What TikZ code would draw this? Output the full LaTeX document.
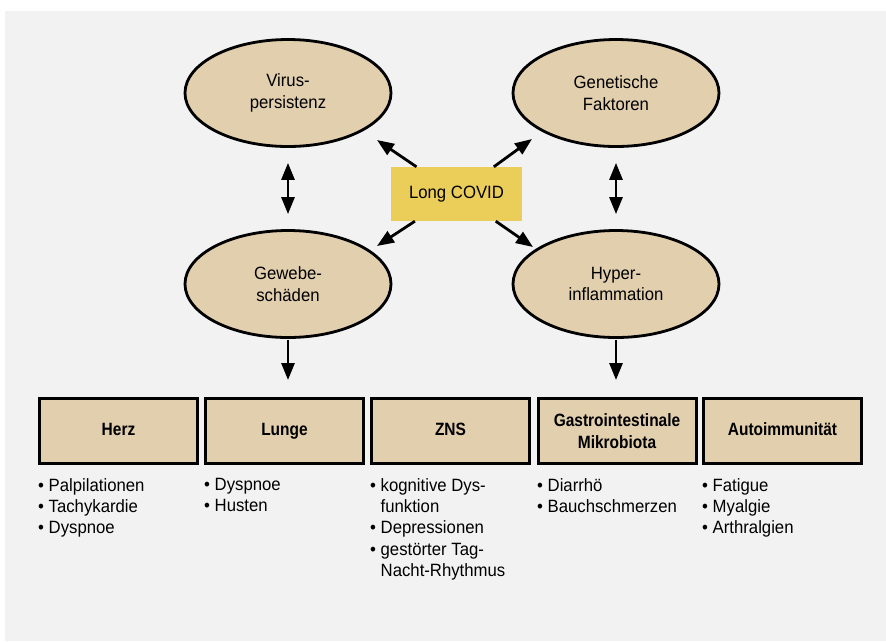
\documentclass[tikz,border=0pt]{standalone}
\usepackage{fontspec}
\setmainfont{Liberation Sans}[FakeStretch=0.94,BoldFeatures={FakeStretch=0.87}]
\usetikzlibrary{shapes.geometric,arrows.meta}
\definecolor{bg}{HTML}{F2F2F2}
\definecolor{tan}{HTML}{E2CFAE}
\definecolor{ylw}{HTML}{EBCD5A}
\tikzset{
  x=1pt,y=-1pt,
  txt/.style={font=\fontsize{17.8}{21.4}\selectfont},
  ell/.style={ellipse,draw=black,line width=2.8pt,fill=tan,minimum width=206,minimum height=107,inner sep=0,align=center,txt},
  cat/.style={rectangle,draw=black,line width=3pt,fill=tan,minimum width=158,minimum height=65,inner sep=0,align=center,txt,font=\fontsize{17.8}{21.4}\selectfont\bfseries},
  lst/.style={anchor=north west,align=left,inner sep=0,txt},
  arr/.style={line width=2.8pt,-{Triangle[length=17pt,width=13pt]}},
  dbl/.style={line width=2.8pt,{Triangle[length=17pt,width=13pt]}-{Triangle[length=17pt,width=13pt]}}
}
\newcommand{\bl}{\textbullet\ }
\newcommand{\bi}{\hphantom{\textbullet\ }}
\newcommand{\sg}{\vphantom{Hg}}
\begin{document}
\begin{tikzpicture}
\useasboundingbox (0,0) rectangle (886,641);
\fill[bg] (5,11) rectangle (886,641);
\node[ell] (vir) at (288,93) {Virus-\\persistenz};
\node[ell] (gen) at (616,93) {Genetische\\Faktoren};
\node[ell] (gew) at (288,284) {Gewebe-\\schäden};
\node[ell] (hyp) at (616,284) {Hyper-\\inflammation};
\node[fill=ylw,minimum width=131,minimum height=54,inner sep=0,txt] (lc) at (456.5,194) {Long COVID};
\coordinate (t1) at (377,140);
\coordinate (t2) at (532,139);
\coordinate (t3) at (377,246);
\coordinate (t4) at (533,247);
\draw[arr] (lc) -- (t1);
\draw[arr] (lc) -- (t2);
\draw[arr] (lc) -- (t3);
\draw[arr] (lc) -- (t4);
\draw[dbl,shorten <=15,shorten >=15] (vir) -- (gew);
\draw[dbl,shorten <=15,shorten >=15] (gen) -- (hyp);
\node[cat] (herz) at (118.5,431) {\sg Herz};
\node[cat] (lun) at (284.5,431) {\sg Lunge};
\node[cat] (zns) at (450.5,431) {\sg ZNS};
\node[cat] (gas) at (617,431) {Gastrointestinale\\Mikrobiota};
\node[cat] (aut) at (782.5,431) {\sg Autoimmunität};
\draw[arr,shorten <=1,shorten >=17] (gew) -- (gew |- lun.north);
\draw[arr,shorten <=1,shorten >=17] (hyp) -- (hyp |- gas.north);
\node[lst] (l1) at (38,478) {\bl Palpilationen\\\bl Tachykardie\\\bl Dyspnoe};
\node[lst] (l2) at (204,478) {\bl Dyspnoe\\\bl Husten};
\node[lst] (l3) at (370,478) {\bl kognitive Dys-\\\bi funktion\\\bl Depressionen\\\bl gestörter Tag-\\\bi Nacht-Rhythmus};
\node[lst] (l4) at (537,478) {\bl Diarrhö\\\bl Bauchschmerzen};
\node[lst] (l5) at (702,478) {\bl Fatigue\\\bl Myalgie\\\bl Arthralgien};
\end{tikzpicture}
\end{document}
